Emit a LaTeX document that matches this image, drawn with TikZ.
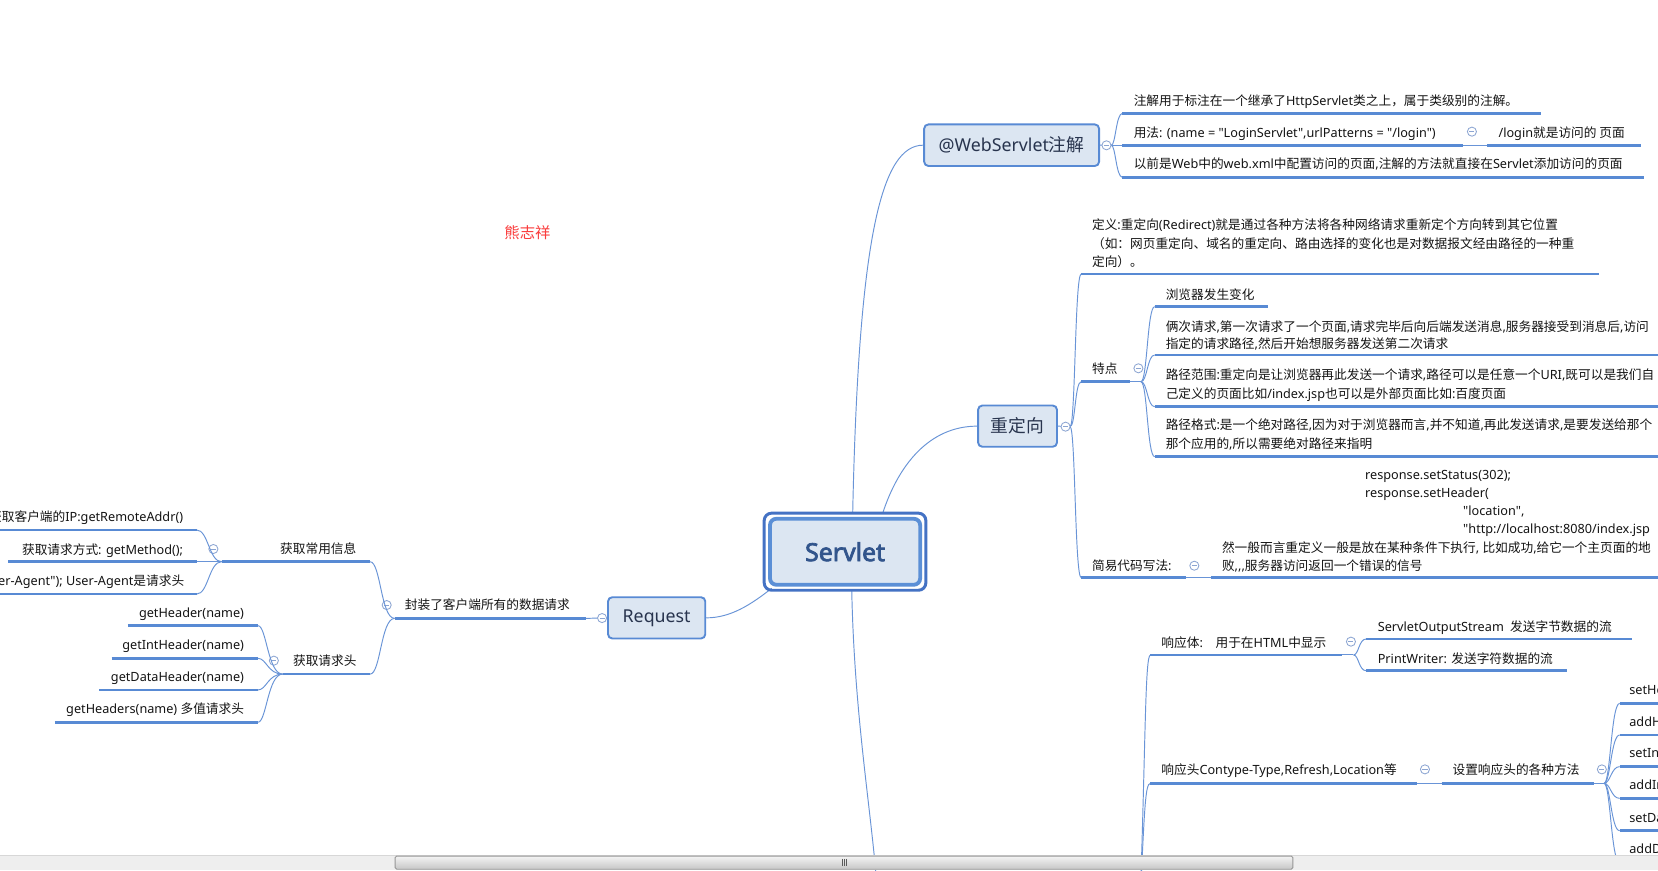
\documentclass[tikz,border=0pt]{standalone}
\usepackage{fontspec}
\setmainfont{Noto Sans CJK SC}
\newfontfamily\latfont{Noto Sans}
\newfontfamily\cjkfont{Noto Sans CJK SC}
\newfontfamily\svfont{Noto Sans}[AutoFakeBold=3]
\XeTeXinterchartokenstate=1
\chardef\cjkclass=77
\newcount\cjkcnt
\def\setcjkrange#1#2{\cjkcnt=#1\relax\loop\XeTeXcharclass\cjkcnt=\cjkclass\advance\cjkcnt by 1\relax\ifnum\cjkcnt<#2\relax\repeat}
\setcjkrange{"3000}{"3040}
\setcjkrange{"4E00}{"A000}
\setcjkrange{"FF00}{"FFF0}
\XeTeXinterchartoks 0 \cjkclass = {\cjkfont}
\XeTeXinterchartoks 4095 \cjkclass = {\cjkfont}
\XeTeXinterchartoks \cjkclass 0 = {\latfont}
\XeTeXinterchartoks 4095 0 = {\latfont}
\newcommand\svsetup{\XeTeXinterchartokenstate=0\relax\svfont\bfseries\fontsize{23.5}{26}\selectfont}

\definecolor{ulc}{RGB}{88,138,212}
\definecolor{cnc}{RGB}{105,148,215}
\definecolor{boxfill}{RGB}{220,230,242}
\definecolor{topictxt}{RGB}{40,52,78}
\definecolor{svtxt}{RGB}{50,85,140}
\definecolor{svout}{RGB}{68,114,196}
\definecolor{svin}{RGB}{91,143,214}
\definecolor{colc}{RGB}{140,165,210}
\definecolor{txtc}{RGB}{20,20,20}
\definecolor{redtxt}{RGB}{250,60,60}
\definecolor{sbbg}{RGB}{238,238,238}
\definecolor{sbline}{RGB}{215,215,215}
\definecolor{sbbord}{RGB}{150,150,150}
\definecolor{sbtop}{RGB}{244,244,244}
\definecolor{sbbot}{RGB}{198,198,198}
\definecolor{sbgrip}{RGB}{90,90,90}

\tikzset{
  ul/.style={draw=ulc, line width=2.6pt},
  conn/.style={draw=cnc, line width=0.9pt},
  leaf/.style={inner sep=0pt, text=txtc, font=\fontsize{12}{14}\selectfont},
  lw/.style={leaf, anchor=base west},
  le/.style={leaf, anchor=base east},
  topic/.style={draw=ulc, fill=boxfill, line width=1.8pt, rounded corners=4pt, text=topictxt, font=\fontsize{16.8}{18}\selectfont, inner sep=0pt},
  col/.style={circle, draw=colc, fill=white, line width=0.8pt, minimum size=8.6pt, inner sep=0pt,
    path picture={\draw[colc, line width=0.8pt] ([xshift=-2.4pt]path picture bounding box.center) -- ([xshift=2.4pt]path picture bounding box.center);}},
  rbr/.style 2 args={out=0, in=180, out distance=#1, in distance=#2},
  lbr/.style 2 args={out=180, in=0, out distance=#1, in distance=#2},
}

\begin{document}
\begin{tikzpicture}[x=1pt,y=-1pt]
\useasboundingbox[fill=white] (0,0) rectangle (1568,823);
\clip (0,0) rectangle (1568,823);

% ---------- coordinates on the central topic ----------
\coordinate (svt1) at (806.4,485.3);
\coordinate (svt2) at (834.8,485.3);
\coordinate (svb)  at (805.5,558.2);
\coordinate (svl)  at (729.8,556.4);
\coordinate (rsp)  at (830,845);

% ---------- main topics (positions) ----------
\node[topic, minimum width=165.4pt, minimum height=39.3pt] (wb) at (956.7,137.3) {@WebServlet注解};
\node[topic, minimum width=74.6pt, minimum height=39pt] (rd) at (962.3,403) {重定向};
\node[topic, minimum width=92pt, minimum height=39pt] (rq) at (621,584.3) {Request};

% ---------- connectors from Servlet ----------
\draw[conn] (svt1) .. controls +(5.6,-264) and +(-39,0) .. (wb.west);
\draw[conn] (svt2) .. controls +(15,-46) and +(-45,0) .. (rd.west);
\draw[conn] (svl) .. controls +(-20,15.6) and +(23,0) .. (rq.east);
\draw[conn] (svb) .. controls +(2.5,120) and +(-6,-80) .. (rsp);

% ---------- @WebServlet branch ----------
\coordinate (wbj) at (1051,137.4);
\coordinate (w1a) at (1061.5,107.2); \coordinate (w1b) at (1456.9,107.2);
\coordinate (w2a) at (1061.5,137.4); \coordinate (w2b) at (1383.6,137.4);
\coordinate (w3a) at (1061.5,167.7); \coordinate (w3b) at (1555,167.7);
\coordinate (w4a) at (1406.6,137.4); \coordinate (w4b) at (1552,137.4);
\draw[conn] (wb.east) -- (wbj);
\draw[conn] (wbj) to[rbr={4pt}{6pt}] (w1a);
\draw[conn] (wbj) -- (w2a);
\draw[conn] (wbj) to[rbr={4pt}{6pt}] (w3a);
\draw[conn] (w2b) -- (w4a);
\draw[ul] (w1a) -- (w1b);
\draw[ul] (w2a) -- (w2b);
\draw[ul] (w3a) -- (w3b);
\draw[ul] (w4a) -- (w4b);
\node[col] (wbc) at (1046.4,137.4) {};
\node[col] (w2c) at (1392,124.5) {};
\node[lw] (w1t) at (1072,99.8) {注解用于标注在一个继承了HttpServlet类之上，属于类级别的注解。};
\node[lw] (w2t) at (1072,129.8) {用法: (name = "LoginServlet",urlPatterns = "/login")};
\node[lw] (w4t) at (1417,129.6) {/login就是访问的 页面};
\node[lw] (w3t) at (1072,159.7) {以前是Web中的web.xml中配置访问的页面,注解的方法就直接在Servlet添加访问的页面};

% ---------- 重定向 branch ----------
\coordinate (rdj) at (1012,403.5);
\coordinate (r1a) at (1022.5,259.1); \coordinate (r1b) at (1512,259.1);
\coordinate (r2a) at (1022.5,361);   \coordinate (r2b) at (1068.2,361);
\coordinate (r3a) at (1022.5,546.3); \coordinate (r3b) at (1121.3,546.3);
\draw[conn] (rd.east) -- (rdj);
\draw[conn] (rdj) to[rbr={5pt}{6pt}] (r1a);
\draw[conn] (rdj) to[rbr={5pt}{6pt}] (r2a);
\draw[conn] (rdj) to[rbr={5pt}{6pt}] (r3a);
\draw[ul] (r1a) -- (r1b);
\draw[ul] (r2a) -- (r2b);
\draw[ul] (r3a) -- (r3b);
\node[col] (rdc) at (1007.7,403.5) {};
\node[lw] (d1) at (1032.6,217.4) {定义:重定向(Redirect)就是通过各种方法将各种网络请求重新定个方向转到其它位置};
\node[lw] (d2) at (1032.6,234.7) {（如：网页重定向、域名的重定向、路由选择的变化也是对数据报文经由路径的一种重};
\node[lw] (d3) at (1032.6,252.1) {定向）。};
\node[lw] (r2t) at (1032.6,352.9) {特点};
\node[lw] (r3t) at (1032.6,539.9) {简易代码写法:};

% 特点 children
\coordinate (r2j) at (1079,361);
\coordinate (t1a) at (1092,290);   \coordinate (t1b) at (1199.5,290);
\coordinate (t2a) at (1092,335.7); \coordinate (t2b) at (1580,335.7);
\coordinate (t3a) at (1092,384.6); \coordinate (t3b) at (1580,384.6);
\coordinate (t4a) at (1092,431.9); \coordinate (t4b) at (1580,431.9);
\draw[conn] (r2b) -- (r2j);
\foreach \k in {1,2,3,4} {\draw[conn] (r2j) to[rbr={6pt}{7pt}] (t\k a);}
\foreach \k in {1,2,3,4} {\draw[ul] (t\k a) -- (t\k b);}
\node[col] (r2c) at (1076.6,348.3) {};
\node[lw] (t1t) at (1102.3,283.6) {浏览器发生变化};
\node[lw] (t2t) at (1102.3,313.6) {俩次请求,第一次请求了一个页面,请求完毕后向后端发送消息,服务器接受到消息后,访问};
\node[lw] (t2u) at (1102.3,329.3) {指定的请求路径,然后开始想服务器发送第二次请求};
\node[lw] (t3t) at (1102.3,359.2) {路径范围:重定向是让浏览器再此发送一个请求,路径可以是任意一个URI,既可以是我们自};
\node[lw] (t3u) at (1102.3,376.6) {己定义的页面比如/index.jsp也可以是外部页面比如:百度页面};
\node[lw] (t4t) at (1102.3,406.6) {路径格式:是一个绝对路径,因为对于浏览器而言,并不知道,再此发送请求,是要发送给那个};
\node[lw] (t4u) at (1102.3,423.9) {那个应用的,所以需要绝对路径来指明};

% 简易代码 child
\coordinate (c1a) at (1145.2,546.3); \coordinate (c1b) at (1580,546.3);
\draw[conn] (r3b) -- (c1a);
\draw[ul] (c1a) -- (c1b);
\node[col] (r3c) at (1129.5,535) {};
\node[lw] (k1) at (1290.8,453.3) {response.setStatus(302);};
\node[lw] (k2) at (1290.8,470.7) {response.setHeader(};
\node[lw] (k3) at (1383.6,487.4) {"location",};
\node[lw] (k4) at (1383.6,504.7) {"http://localhost:8080/index.jsp};
\node[lw] (k5) at (1155.5,522.6) {然一般而言重定义一般是放在某种条件下执行, 比如成功,给它一个主页面的地};
\node[lw] (k6) at (1155.5,539.9) {败,,,服务器访问返回一个错误的信号};

% ---------- Response branch (parent below the view) ----------
\coordinate (rsj) at (1078.5,845);
\coordinate (p1a) at (1088,619.4); \coordinate (p1b) at (1269.2,619.4);
\coordinate (p2a) at (1088,740.8); \coordinate (p2b) at (1339.9,740.8);
\draw[conn] (rsj) .. controls +(5,-150) and +(-5,0) .. (p1a);
\draw[conn] (rsj) .. controls +(4,-80) and +(-5,0) .. (p2a);
\draw[ul] (p1a) -- (p1b);
\draw[ul] (p2a) -- (p2b);
\node[lw] (p1t) at (1098.2,612.4) {响应体:\hspace{12pt}用于在HTML中显示};
\node[lw] (p2t) at (1098.2,732.8) {响应头Contype-Type,Refresh,Location等};

\coordinate (p1j) at (1280,619.4);
\coordinate (q1a) at (1292,604.3); \coordinate (q1b) at (1543.5,604.3);
\coordinate (q2a) at (1292,634.3); \coordinate (q2b) at (1482,634.3);
\draw[conn] (p1b) -- (p1j);
\draw[conn] (p1j) to[rbr={5pt}{7pt}] (q1a);
\draw[conn] (p1j) to[rbr={5pt}{7pt}] (q2a);
\draw[ul] (q1a) -- (q1b);
\draw[ul] (q2a) -- (q2b);
\node[col] (p1c) at (1277.6,606.8) {};
\node[lw] (q1t) at (1302.8,597.3) {ServletOutputStream\hspace{6pt}发送字节数据的流};
\node[lw] (q2t) at (1302.8,627.8) {PrintWriter: 发送字符数据的流};

\coordinate (s0a) at (1363.4,740.8); \coordinate (s0b) at (1507.5,740.8);
\coordinate (s0j) at (1517,740.8);
\draw[conn] (p2b) -- (s0a);
\draw[ul] (s0a) -- (s0b);
\draw[conn] (s0b) -- (s0j);
\node[col] (p2c) at (1347.6,727.6) {};
\node[col] (s0c) at (1514.9,727.6) {};
\node[lw] (s0t) at (1373.5,732.8) {设置响应头的各种方法};
\foreach \k/\yy in {1/665.2,2/695.1,3/725,4/755,5/785.6,6/815.6} {
  \coordinate (s\k a) at (1531.7,\yy);
  \coordinate (s\k b) at (1590,\yy);
  \draw[conn] (s0j) to[rbr={6pt}{8pt}] (s\k a);
  \draw[ul] (s\k a) -- (s\k b);
}
\node[lw] (s1t) at (1540.7,656.7) {setHeader};
\node[lw] (s2t) at (1540.7,686.9) {addHeader};
\node[lw] (s3t) at (1540.7,716.5) {setIntHeader};
\node[lw] (s4t) at (1540.7,746.8) {addIntHeader};
\node[lw] (s5t) at (1540.7,777.4) {setDateHeader};
\node[lw] (s6t) at (1540.7,807.4) {addDateHeader};

% ---------- Request branch ----------
\coordinate (e0a) at (373.2,584.8); \coordinate (e0b) at (554.2,584.8);
\draw[conn] (rq.west) -- (e0b);
\draw[ul] (e0a) -- (e0b);
\node[col] (rqc) at (569.4,584.5) {};
\node[col] (e0c) at (365.7,572.2) {};
\node[lw] (e0t) at (382.7,576.8) {封装了客户端所有的数据请求};

\coordinate (g1a) at (209.6,531.2); \coordinate (g1b) at (350,531.2);
\coordinate (g2a) at (267.3,637.5); \coordinate (g2b) at (350,637.5);
\draw[conn] (e0a) to[lbr={13pt}{10pt}] (g1b);
\draw[conn] (e0a) to[lbr={13pt}{10pt}] (g2b);
\draw[ul] (g1a) -- (g1b);
\draw[ul] (g2a) -- (g2b);
\node[col] (g1c) at (201.8,519.2) {};
\node[col] (g2c) at (259,624.8) {};
\node[lw] (g1t) at (264.8,523.8) {获取常用信息};
\node[lw] (g2t) at (277,629.4) {获取请求头};

\coordinate (h1a) at (-10,501.2); \coordinate (h1b) at (186,501.2);
\coordinate (h2a) at (7.9,531.2); \coordinate (h2b) at (186,531.2);
\coordinate (h3a) at (-10,561.8); \coordinate (h3b) at (186,561.8);
\draw[conn] (g1a) to[lbr={12pt}{11pt}] (h1b);
\draw[conn] (g1a) -- (h2b);
\draw[conn] (g1a) to[lbr={12pt}{11pt}] (h3b);
\draw[ul] (h1a) -- (h1b);
\draw[ul] (h2a) -- (h2b);
\draw[ul] (h3a) -- (h3b);
\node[le] (h1t) at (173.4,493.2) {获取客户端的IP:getRemoteAddr()};
\node[le] (h2t) at (173.4,524.6) {获取请求方式: getMethod();};
\node[le] (h3t) at (174.4,553.6) {getHeader("User-Agent"); User-Agent是请求头};

\coordinate (m1a) at (121,591.7);  \coordinate (m1b) at (244,591.7);
\coordinate (m2a) at (105.6,622.6); \coordinate (m2b) at (244,622.6);
\coordinate (m3a) at (94,652.5);   \coordinate (m3b) at (244,652.5);
\coordinate (m4a) at (52,683);     \coordinate (m4b) at (244,683);
\foreach \k in {1,2,3,4} {\draw[conn] (g2a) to[lbr={14pt}{8pt}] (m\k b);}
\foreach \k in {1,2,3,4} {\draw[ul] (m\k a) -- (m\k b);}
\node[le] (m1t) at (231,584.2) {getHeader(name)};
\node[le] (m2t) at (231,614.1) {getIntHeader(name)};
\node[le] (m3t) at (231,644.5) {getDataHeader(name)};
\node[le] (m4t) at (231,674.8) {getHeaders(name) 多值请求头};

% ---------- central topic ----------
\node[draw=svout, line width=2.8pt, rounded corners=7pt, minimum width=152.9pt, minimum height=72.9pt, inner sep=0pt] (svo) at (799.15,521.75) {};
\node[draw=svin, fill=boxfill, line width=3.6pt, rounded corners=6pt, minimum width=142pt, minimum height=62.4pt, inner sep=0pt,
      text=svtxt, font=\svsetup] (sv) at (799.2,521.8) {Servlet};

% ---------- author ----------
\node[inner sep=0pt, text=redtxt, font=\fontsize{14.5}{16}\selectfont] (author) at (498.8,219.7) {熊志祥};

% ---------- scroll bar ----------
\fill[sbbg] (0,808.6) rectangle (1568,823);
\draw[sbline, line width=0.8pt] (0,808.6) -- (1568,808.6);
\node[draw=sbbord, line width=0.8pt, top color=sbtop, bottom color=sbbot, rounded corners=1.5pt,
      minimum width=849pt, minimum height=12.4pt, inner sep=0pt] (thumb) at (798.2,815.8) {};
\foreach \dx in {-2,0,2} {\draw[sbgrip, line width=0.7pt] ([xshift=\dx pt, yshift=3.5pt]thumb.center) -- ([xshift=\dx pt, yshift=-3.5pt]thumb.center);}
\end{tikzpicture}
\end{document}
